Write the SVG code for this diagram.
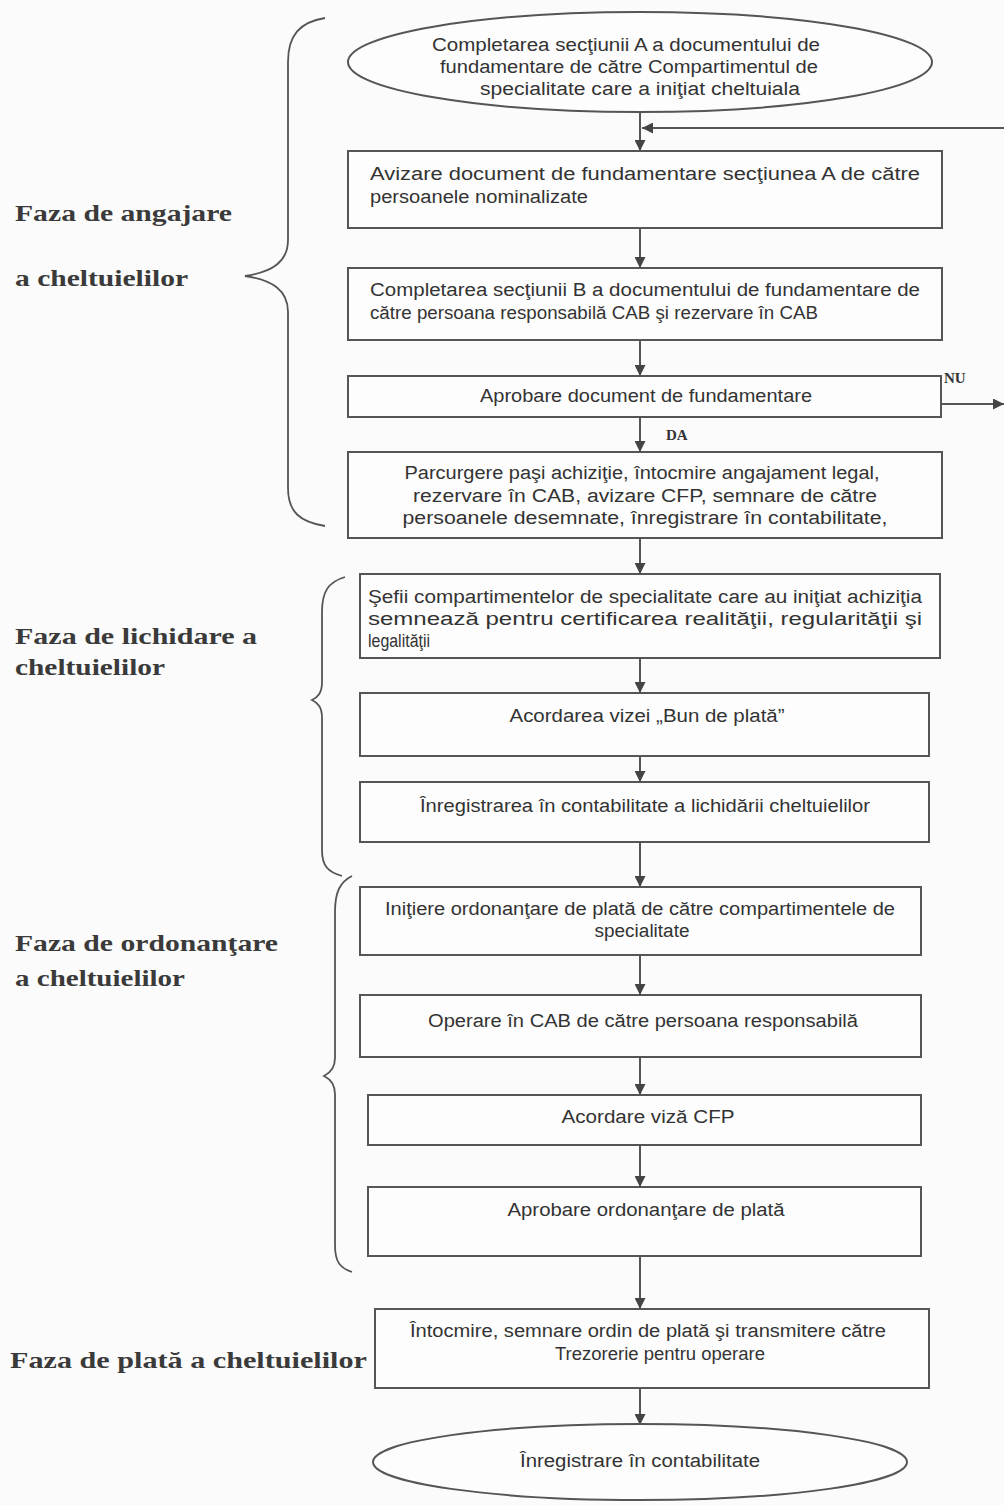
<svg xmlns="http://www.w3.org/2000/svg" width="1004" height="1505" viewBox="0 0 1004 1505">
<style>
.bx{fill:#fdfdfd;stroke:#555;stroke-width:2}
.t{font-family:"Liberation Sans",Arial,sans-serif;font-size:18px;fill:#333}
.m{text-anchor:middle}
.lab{font-family:"Liberation Serif","Times New Roman",serif;font-weight:bold;font-size:24px;fill:#3a3a3a}
.cn{stroke:#555;stroke-width:2;fill:none}
.br{stroke:#555;stroke-width:1.8;fill:none}
</style>
<defs>
<marker id="ah" viewBox="0 0 10 10" refX="10" refY="5" markerWidth="13" markerHeight="11" orient="auto" markerUnits="userSpaceOnUse">
<path d="M0,0 L10,5 L0,10 z" fill="#444"/>
</marker>
</defs>
<rect width="1004" height="1505" fill="#fbfbfb"/>

<g id="braces">
<path class="br" d="M325,18 C300,22 288,35 288,62 L288,240 C288,262 272,272 245,276 C272,280 288,290 288,312 L288,488 C288,512 300,522 325,526"/>
<path class="br" d="M345,577 C328,582 322,592 322,612 L322,682 C322,693 318,697 312,700 C318,703 322,707 322,718 L322,850 C322,866 328,872 342,876"/>
<path class="br" d="M352,876 C340,882 335,892 335,912 L335,1058 C335,1068 330,1073 324,1076 C330,1079 335,1084 335,1094 L335,1245 C335,1262 340,1268 352,1272"/>
</g>

<g id="labels">
<text class="lab" x="15" y="221" textLength="217" lengthAdjust="spacingAndGlyphs">Faza de angajare</text>
<text class="lab" x="15" y="286" textLength="173" lengthAdjust="spacingAndGlyphs">a cheltuielilor</text>
<text class="lab" x="15" y="644" textLength="242" lengthAdjust="spacingAndGlyphs">Faza de lichidare a</text>
<text class="lab" x="15" y="675" textLength="150" lengthAdjust="spacingAndGlyphs">cheltuielilor</text>
<text class="lab" x="15" y="951" textLength="263" lengthAdjust="spacingAndGlyphs">Faza de ordonanţare</text>
<text class="lab" x="15" y="986" textLength="170" lengthAdjust="spacingAndGlyphs">a cheltuielilor</text>
<text class="lab" x="10" y="1368" textLength="357" lengthAdjust="spacingAndGlyphs">Faza de plată a cheltuielilor</text>
</g>

<g id="connectors">
<line class="cn" x1="640" y1="113" x2="640" y2="151" marker-end="url(#ah)"/>
<line class="cn" x1="1004" y1="128" x2="642" y2="128" marker-end="url(#ah)"/>
<line class="cn" x1="640" y1="228" x2="640" y2="268" marker-end="url(#ah)"/>
<line class="cn" x1="640" y1="340" x2="640" y2="376" marker-end="url(#ah)"/>
<line class="cn" x1="640" y1="417" x2="640" y2="452" marker-end="url(#ah)"/>
<line class="cn" x1="941" y1="404" x2="1004" y2="404" marker-end="url(#ah)"/>
<line class="cn" x1="640" y1="538" x2="640" y2="574" marker-end="url(#ah)"/>
<line class="cn" x1="640" y1="658" x2="640" y2="693" marker-end="url(#ah)"/>
<line class="cn" x1="640" y1="756" x2="640" y2="782" marker-end="url(#ah)"/>
<line class="cn" x1="640" y1="842" x2="640" y2="887" marker-end="url(#ah)"/>
<line class="cn" x1="640" y1="955" x2="640" y2="995" marker-end="url(#ah)"/>
<line class="cn" x1="640" y1="1057" x2="640" y2="1095" marker-end="url(#ah)"/>
<line class="cn" x1="640" y1="1145" x2="640" y2="1187" marker-end="url(#ah)"/>
<line class="cn" x1="640" y1="1256" x2="640" y2="1309" marker-end="url(#ah)"/>
<line class="cn" x1="640" y1="1388" x2="640" y2="1425" marker-end="url(#ah)"/>
<text x="666" y="440" font-family="Liberation Serif,serif" font-weight="bold" font-size="15" fill="#333">DA</text>
<text x="944" y="383" font-family="Liberation Serif,serif" font-weight="bold" font-size="15" fill="#333">NU</text>
</g>

<g id="n_start">
<ellipse class="bx" cx="640" cy="62" rx="292" ry="50"/>
<text class="t m" x="626" y="51" textLength="388" lengthAdjust="spacingAndGlyphs">Completarea secţiunii A a documentului de</text>
<text class="t m" x="629" y="73" textLength="378" lengthAdjust="spacingAndGlyphs">fundamentare de către Compartimentul de</text>
<text class="t m" x="640" y="95" textLength="320" lengthAdjust="spacingAndGlyphs">specialitate care a iniţiat cheltuiala</text>
</g>

<g id="n1">
<rect class="bx" x="348" y="151" width="594" height="77"/>
<text class="t" x="370" y="180" textLength="550" lengthAdjust="spacingAndGlyphs">Avizare document de fundamentare secţiunea A de către</text>
<text class="t" x="370" y="203" textLength="218" lengthAdjust="spacingAndGlyphs">persoanele nominalizate</text>
</g>

<g id="n2">
<rect class="bx" x="348" y="268" width="594" height="72"/>
<text class="t" x="370" y="296" textLength="550" lengthAdjust="spacingAndGlyphs">Completarea secţiunii B a documentului de fundamentare de</text>
<text class="t" x="370" y="319" textLength="448" lengthAdjust="spacingAndGlyphs">către persoana responsabilă CAB şi rezervare în CAB</text>
</g>

<g id="n3">
<rect class="bx" x="348" y="376" width="593" height="41"/>
<text class="t m" x="646" y="402" textLength="332" lengthAdjust="spacingAndGlyphs">Aprobare document de fundamentare</text>
</g>

<g id="n4">
<rect class="bx" x="348" y="452" width="594" height="86"/>
<text class="t m" x="642" y="479" textLength="475" lengthAdjust="spacingAndGlyphs">Parcurgere paşi achiziţie, întocmire angajament legal,</text>
<text class="t m" x="645" y="502" textLength="464" lengthAdjust="spacingAndGlyphs">rezervare în CAB, avizare CFP, semnare de către</text>
<text class="t m" x="645" y="524" textLength="485" lengthAdjust="spacingAndGlyphs">persoanele desemnate, înregistrare în contabilitate,</text>
</g>

<g id="n5">
<rect class="bx" x="360" y="574" width="580" height="84"/>
<text class="t" x="368" y="603" textLength="554" lengthAdjust="spacingAndGlyphs">Şefii compartimentelor de specialitate care au iniţiat achiziţia</text>
<text class="t" x="368" y="625" textLength="554" lengthAdjust="spacingAndGlyphs">semnează pentru certificarea realităţii, regularităţii şi</text>
<text class="t" x="368" y="647" textLength="62" lengthAdjust="spacingAndGlyphs">legalităţii</text>
</g>

<g id="n6">
<rect class="bx" x="360" y="693" width="569" height="63"/>
<text class="t m" x="647" y="722" textLength="275" lengthAdjust="spacingAndGlyphs">Acordarea vizei „Bun de plată”</text>
</g>

<g id="n7">
<rect class="bx" x="360" y="782" width="569" height="60"/>
<text class="t m" x="645" y="812" textLength="450" lengthAdjust="spacingAndGlyphs">Înregistrarea în contabilitate a lichidării cheltuielilor</text>
</g>

<g id="n8">
<rect class="bx" x="360" y="887" width="561" height="68"/>
<text class="t m" x="640" y="915" textLength="510" lengthAdjust="spacingAndGlyphs">Iniţiere ordonanţare de plată de către compartimentele de</text>
<text class="t m" x="642" y="937" textLength="95" lengthAdjust="spacingAndGlyphs">specialitate</text>
</g>

<g id="n9">
<rect class="bx" x="360" y="995" width="561" height="62"/>
<text class="t m" x="643" y="1027" textLength="430" lengthAdjust="spacingAndGlyphs">Operare în CAB de către persoana responsabilă</text>
</g>

<g id="n10">
<rect class="bx" x="368" y="1095" width="553" height="50"/>
<text class="t m" x="648" y="1123" textLength="173" lengthAdjust="spacingAndGlyphs">Acordare viză CFP</text>
</g>

<g id="n11">
<rect class="bx" x="368" y="1187" width="553" height="69"/>
<text class="t m" x="646" y="1216" textLength="277" lengthAdjust="spacingAndGlyphs">Aprobare ordonanţare de plată</text>
</g>

<g id="n12">
<rect class="bx" x="375" y="1309" width="554" height="79"/>
<text class="t m" x="648" y="1337" textLength="476" lengthAdjust="spacingAndGlyphs">Întocmire, semnare ordin de plată şi transmitere către</text>
<text class="t m" x="660" y="1360" textLength="210" lengthAdjust="spacingAndGlyphs">Trezorerie pentru operare</text>
</g>

<g id="n_end">
<ellipse class="bx" cx="640" cy="1462" rx="267" ry="38"/>
<text class="t m" x="640" y="1467" textLength="240" lengthAdjust="spacingAndGlyphs">Înregistrare în contabilitate</text>
</g>
</svg>
